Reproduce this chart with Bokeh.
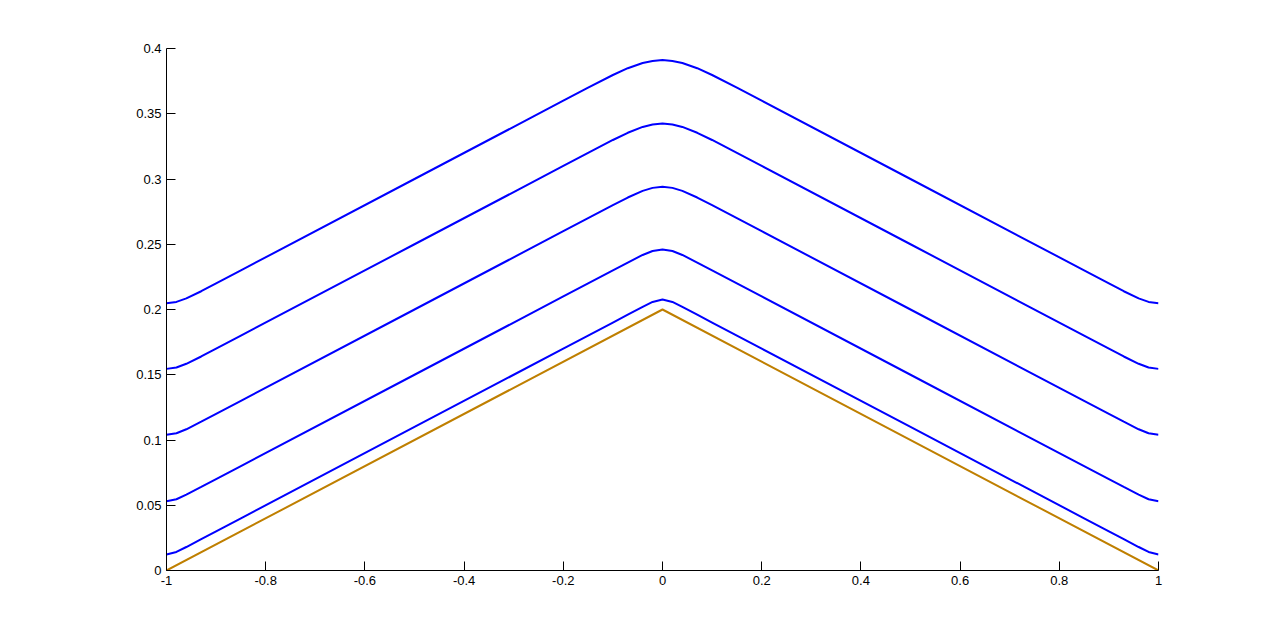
from bokeh.plotting import figure
from bokeh.models import Range1d, FixedTicker
from bokeh.embed import file_html
from bokeh.resources import INLINE

# x positions shared by the blue curves
x_blue = [-1, -0.98, -0.96, -0.93, -0.9, -0.85, -0.5, -0.2, -0.15, -0.1, -0.07, -0.04, -0.02, 0,
          0.02, 0.04, 0.07, 0.1, 0.15, 0.2, 0.5, 0.85, 0.9, 0.93, 0.96, 0.98, 1]

curve1 = [0.2048, 0.2058, 0.2085, 0.2140, 0.2200, 0.2300, 0.3000, 0.3600, 0.3700, 0.3797, 0.3849, 0.3889, 0.3904, 0.3911,
          0.3904, 0.3889, 0.3849, 0.3797, 0.3700, 0.3600, 0.3000, 0.2300, 0.2200, 0.2140, 0.2085, 0.2058, 0.2048]
curve2 = [0.1545, 0.1556, 0.1584, 0.1640, 0.1700, 0.1800, 0.2500, 0.3100, 0.3200, 0.3299, 0.3354, 0.3399, 0.3418, 0.3425,
          0.3418, 0.3399, 0.3354, 0.3299, 0.3200, 0.3100, 0.2500, 0.1800, 0.1700, 0.1640, 0.1584, 0.1556, 0.1545]
curve3 = [0.1040, 0.1052, 0.1082, 0.1140, 0.1200, 0.1300, 0.2000, 0.2600, 0.2700, 0.2800, 0.2858, 0.2909, 0.2932, 0.2940,
          0.2932, 0.2909, 0.2858, 0.2800, 0.2700, 0.2600, 0.2000, 0.1300, 0.1200, 0.1140, 0.1082, 0.1052, 0.1040]
curve4 = [0.0530, 0.0546, 0.0581, 0.0640, 0.0700, 0.0800, 0.1500, 0.2100, 0.2200, 0.2300, 0.2360, 0.2418, 0.2448, 0.2460,
          0.2448, 0.2418, 0.2360, 0.2300, 0.2200, 0.2100, 0.1500, 0.0800, 0.0700, 0.0640, 0.0581, 0.0546, 0.0530]
curve5 = [0.0123, 0.0142, 0.0180, 0.0240, 0.0300, 0.0400, 0.1100, 0.1700, 0.1800, 0.1900, 0.1960, 0.2020, 0.2058, 0.2077,
          0.2058, 0.2020, 0.1960, 0.1900, 0.1800, 0.1700, 0.1100, 0.0400, 0.0300, 0.0240, 0.0180, 0.0142, 0.0123]

x_brown = [-1, 0, 1]
y_brown = [0.0, 0.2, 0.0]

x_ticks = [-1, -0.8, -0.6, -0.4, -0.2, 0, 0.2, 0.4, 0.6, 0.8, 1]
x_tick_labels = ["-1", "-0.8", "-0.6", "-0.4", "-0.2", "0", "0.2", "0.4", "0.6", "0.8", "1"]
y_ticks = [0, 0.05, 0.1, 0.15, 0.2, 0.25, 0.3, 0.35, 0.4]
y_tick_labels = ["0", "0.05", "0.1", "0.15", "0.2", "0.25", "0.3", "0.35", "0.4"]

p = figure(width=1264, height=625, output_backend="svg", toolbar_location=None,
           x_range=Range1d(-1, 1), y_range=Range1d(0, 0.4),
           min_border_left=166, min_border_right=106, min_border_top=48, min_border_bottom=55)
p.outline_line_color = None
p.xgrid.visible = False
p.ygrid.visible = False
p.background_fill_color = "white"
p.border_fill_color = "white"

for ys in [curve1, curve2, curve3, curve4, curve5]:
    p.line(x_blue, ys, line_color="#0000FF", line_width=2)
p.line(x_brown, y_brown, line_color="#BF7F00", line_width=2)

p.xaxis.ticker = FixedTicker(ticks=x_ticks)
p.xaxis.major_label_overrides = {t: l for t, l in zip(x_ticks, x_tick_labels)}
p.yaxis.ticker = FixedTicker(ticks=y_ticks)
p.yaxis.major_label_overrides = {t: l for t, l in zip(y_ticks, y_tick_labels)}

for ax in [p.xaxis[0], p.yaxis[0]]:
    ax.major_tick_in = 9
    ax.major_tick_out = 0
    ax.minor_tick_line_color = None
    ax.axis_line_color = "black"
    ax.axis_line_width = 1
    ax.major_tick_line_color = "black"
    ax.major_label_text_font = "Liberation Sans"
    ax.major_label_text_font_size = "13px"
    ax.major_label_text_color = "black"
    ax.major_label_standoff = 5

open("out.html", "w").write(file_html(p, INLINE))
